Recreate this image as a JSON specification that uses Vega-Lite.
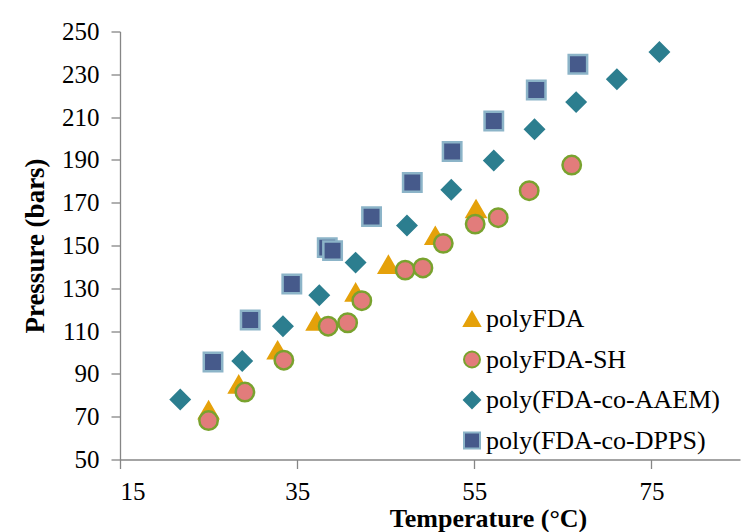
{
  "$schema": "https://vega.github.io/schema/vega-lite/v6.json",
  "width": 620,
  "height": 428,
  "autosize": "none",
  "padding": {"left": 120, "top": 31.5, "right": 15, "bottom": 72.5},
  "background": "white",
  "config": {
    "view": {"stroke": null},
    "font": "'Liberation Serif', 'Times New Roman', serif",
    "axis": {
      "grid": false,
      "domainColor": "#868686",
      "tickColor": "#868686",
      "domainWidth": 1.3,
      "tickWidth": 1.3,
      "tickSize": 9,
      "labelPadding": 10,
      "labelFont": "'Liberation Serif', 'Times New Roman', serif",
      "labelFontSize": 25,
      "labelColor": "#000000",
      "titleFont": "'Liberation Serif', 'Times New Roman', serif",
      "titleFontSize": 27,
      "titleFontWeight": "bold",
      "titleColor": "#000000"
    },
    "legend": {
      "labelFont": "'Liberation Serif', 'Times New Roman', serif",
      "labelFontSize": 25,
      "labelColor": "#000000",
      "labelLimit": 0
    }
  },
  "data": {
    "values": [
      {"series": "polyFDA", "temp": 25.0, "pressure": 73},
      {"series": "polyFDA", "temp": 28.4, "pressure": 85},
      {"series": "polyFDA", "temp": 32.8, "pressure": 101},
      {"series": "polyFDA", "temp": 37.2, "pressure": 114.5},
      {"series": "polyFDA", "temp": 41.6, "pressure": 128},
      {"series": "polyFDA", "temp": 45.3, "pressure": 141},
      {"series": "polyFDA", "temp": 50.6, "pressure": 154.5},
      {"series": "polyFDA", "temp": 55.2, "pressure": 167},
      {"series": "polyFDA-SH", "temp": 25.0, "pressure": 68.2},
      {"series": "polyFDA-SH", "temp": 29.1, "pressure": 81.5},
      {"series": "polyFDA-SH", "temp": 33.5, "pressure": 96.4},
      {"series": "polyFDA-SH", "temp": 38.5, "pressure": 112.3},
      {"series": "polyFDA-SH", "temp": 40.7, "pressure": 113.9},
      {"series": "polyFDA-SH", "temp": 42.3, "pressure": 124.2},
      {"series": "polyFDA-SH", "temp": 47.2, "pressure": 138.5},
      {"series": "polyFDA-SH", "temp": 49.2, "pressure": 139.5},
      {"series": "polyFDA-SH", "temp": 51.5, "pressure": 151},
      {"series": "polyFDA-SH", "temp": 55.1, "pressure": 160},
      {"series": "polyFDA-SH", "temp": 57.7, "pressure": 163},
      {"series": "polyFDA-SH", "temp": 61.2, "pressure": 175.6},
      {"series": "polyFDA-SH", "temp": 66.0, "pressure": 187.6},
      {"series": "poly(FDA-co-AAEM)", "temp": 21.8, "pressure": 78},
      {"series": "poly(FDA-co-AAEM)", "temp": 28.8, "pressure": 96},
      {"series": "poly(FDA-co-AAEM)", "temp": 33.4, "pressure": 112.3},
      {"series": "poly(FDA-co-AAEM)", "temp": 37.5, "pressure": 126.8},
      {"series": "poly(FDA-co-AAEM)", "temp": 41.6, "pressure": 142},
      {"series": "poly(FDA-co-AAEM)", "temp": 47.4, "pressure": 159.3},
      {"series": "poly(FDA-co-AAEM)", "temp": 52.4, "pressure": 176},
      {"series": "poly(FDA-co-AAEM)", "temp": 57.2, "pressure": 189.7},
      {"series": "poly(FDA-co-AAEM)", "temp": 61.8, "pressure": 204.3},
      {"series": "poly(FDA-co-AAEM)", "temp": 66.5, "pressure": 217},
      {"series": "poly(FDA-co-AAEM)", "temp": 71.1, "pressure": 227.7},
      {"series": "poly(FDA-co-AAEM)", "temp": 75.9, "pressure": 240.4},
      {"series": "poly(FDA-co-DPPS)", "temp": 25.5, "pressure": 95.6},
      {"series": "poly(FDA-co-DPPS)", "temp": 29.7, "pressure": 115.2},
      {"series": "poly(FDA-co-DPPS)", "temp": 34.4, "pressure": 132},
      {"series": "poly(FDA-co-DPPS)", "temp": 38.4, "pressure": 149},
      {"series": "poly(FDA-co-DPPS)", "temp": 39.0, "pressure": 147.6},
      {"series": "poly(FDA-co-DPPS)", "temp": 43.4, "pressure": 163.5},
      {"series": "poly(FDA-co-DPPS)", "temp": 48.0, "pressure": 179.4},
      {"series": "poly(FDA-co-DPPS)", "temp": 52.5, "pressure": 193.9},
      {"series": "poly(FDA-co-DPPS)", "temp": 57.2, "pressure": 208.2},
      {"series": "poly(FDA-co-DPPS)", "temp": 62.0, "pressure": 222.7},
      {"series": "poly(FDA-co-DPPS)", "temp": 66.7, "pressure": 234.7}
    ]
  },
  "mark": {"type": "point", "filled": true, "opacity": 1, "strokeWidth": 2.5, "size": 340},
  "encoding": {
    "x": {
      "field": "temp", "type": "quantitative",
      "scale": {"domain": [15, 85], "nice": false, "zero": false},
      "axis": {"values": [15, 35, 55, 75], "title": "Temperature (°C)", "titleX": 368, "titleY": 67, "titleFontSize": 26, "titleBaseline": "alphabetic", "labelPadding": 11}
    },
    "y": {
      "field": "pressure", "type": "quantitative",
      "scale": {"domain": [50, 250], "nice": false, "zero": false},
      "axis": {"values": [50, 70, 90, 110, 130, 150, 170, 190, 210, 230, 250], "title": "Pressure (bars)", "titleX": -77, "titleBaseline": "alphabetic", "labelPadding": 12}
    },
    "shape": {
      "field": "series", "type": "nominal",
      "scale": {"domain": ["polyFDA", "polyFDA-SH", "poly(FDA-co-AAEM)", "poly(FDA-co-DPPS)"], "range": ["triangle-up", "circle", "diamond", "square"]},
      "legend": {"title": null, "orient": "none", "legendX": 339, "legendY": 274.5, "symbolSize": 256, "rowPadding": 14.5, "labelOffset": 1, "symbolStrokeWidth": 2, "padding": 0, "labelFont": "'Liberation Serif', 'Times New Roman', serif", "labelFontSize": 26, "labelLimit": 0, "labelColor": "#000000"}
    },
    "fill": {
      "field": "series", "type": "nominal",
      "scale": {"domain": ["polyFDA", "polyFDA-SH", "poly(FDA-co-AAEM)", "poly(FDA-co-DPPS)"], "range": ["#E5A10A", "#E27C7B", "#2C7E8F", "#465A8B"]}
    },
    "stroke": {
      "field": "series", "type": "nominal",
      "scale": {"domain": ["polyFDA", "polyFDA-SH", "poly(FDA-co-AAEM)", "poly(FDA-co-DPPS)"], "range": ["#E5A10A", "#79A22E", "#2C7E8F", "#8CB4C8"]}
    }
  }
}
